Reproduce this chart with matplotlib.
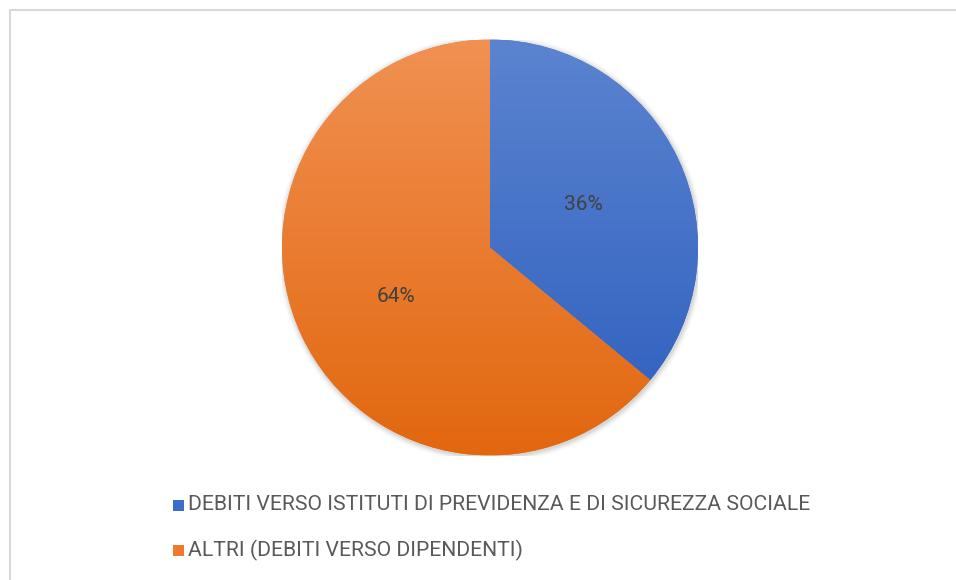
import numpy as np
import matplotlib.pyplot as plt
from matplotlib.colors import LinearSegmentedColormap
from matplotlib.patches import Rectangle

# --- Data ---
labels = ['DEBITI VERSO ISTITUTI DI PREVIDENZA E DI SICUREZZA SOCIALE',
          'ALTRI (DEBITI VERSO DIPENDENTI)']
values = [36, 64]
# top / bottom colours of the Office-style gradient fill
top_colors = ['#5B84D0', '#F19152']
bottom_colors = ['#2D5EBE', '#E2670F']
legend_colors = ['#3B6CC8', '#EE7A2C']

W, H = 956, 580
fig = plt.figure(figsize=(W / 100, H / 100), dpi=100)
fig.patch.set_facecolor('white')

# chart frame (only top and left edges are visible in the crop)
fig.add_artist(Rectangle((9.5 / W, -0.1), 2.0, (H - 10) / H + 0.1,
                         transform=fig.transFigure, fill=False,
                         edgecolor='#D9D9D9', linewidth=1.5))

# pie axes: centre (490, 247.5), radius ~208 px
cx, cy, r = 490, 247.5, 208
ax = fig.add_axes([(cx - r) / W, (H - cy - r) / H, 2 * r / W, 2 * r / H])
ax.set_xlim(-1, 1)
ax.set_ylim(-1, 1)
ax.set_aspect('equal')
ax.axis('off')

# soft shadow
for i, a in enumerate(np.linspace(0.05, 0.01, 5)):
    ax.add_patch(plt.Circle((0.004, -0.006), 1.0 + 0.006 * (i + 1),
                            color='black', alpha=a, lw=0, zorder=0))

wedges, _ = ax.pie(values, startangle=90, counterclock=False, radius=1.0,
                   center=(0, 0), colors=legend_colors,
                   wedgeprops=dict(linewidth=0))
ax.set_xlim(-1, 1)
ax.set_ylim(-1, 1)

grad = np.linspace(0, 1, 256).reshape(-1, 1)
for w, c0, c1 in zip(wedges, top_colors, bottom_colors):
    cmap = LinearSegmentedColormap.from_list('g', [c0, c1])
    im = ax.imshow(grad, cmap=cmap, extent=(-1, 1, -1, 1), origin='upper',
                   aspect='auto', zorder=2, interpolation='bilinear')
    im.set_clip_path(w)

# percentage labels
pct_font = ['Roboto', 'DejaVu Sans']
ax.text(0.45, 0.205, f'{values[0]}%', ha='center', va='center', fontsize=15,
        color='#404040', family=pct_font, zorder=5)
ax.text(-0.45, -0.235, f'{values[1]}%', ha='center', va='center', fontsize=15,
        color='#404040', family=pct_font, zorder=5)

# legend (manual, stacked)
leg_font = ['Roboto', 'DejaVu Sans']
ys = [505, 550]
texts = []
for lab, col, y in zip(labels, legend_colors, ys):
    fig.add_artist(Rectangle((173 / W, (H - y - 5.5) / H), 11 / W, 11 / H,
                             transform=fig.transFigure, facecolor=col,
                             edgecolor='none'))
    texts.append(fig.text(188 / W, (H - y) / H, lab, ha='left', va='center',
                          fontsize=14, color='#595959', family=leg_font))

# scale legend font so the long label spans ~623 px like the reference
fig.canvas.draw()
renderer = fig.canvas.get_renderer()
wpx = texts[0].get_window_extent(renderer).width
size = 14 * 623 / wpx
for t in texts:
    t.set_fontsize(size)

fig.savefig('out.png', dpi=100, facecolor='white')
